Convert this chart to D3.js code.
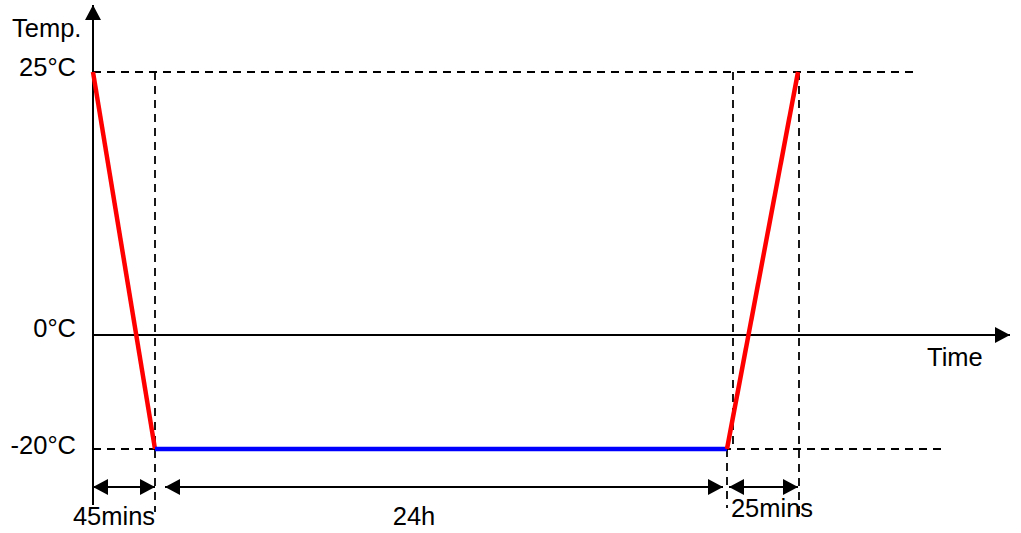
<!DOCTYPE html>
<html>
<head>
<meta charset="utf-8">
<script src="https://cdn.jsdelivr.net/npm/d3@7"></script>
<style>
	body { margin: 0; background: #fff; }
	text { font-family: "Liberation Sans", Arial, sans-serif; font-size: 25.5px; fill: #000; }
</style>
</head>
<body>
<svg id="chart" width="1021" height="533"></svg>
<script>
// profile points: minutes from start, temperature in °C
const times = [0, 45, 1485, 1510];
const temps = [25, -20, -20, 25];
const segColors = ['#ff0000', '#0000ff', '#ff0000'];

const yTicks = [25, 0, -20];
const yTickLabels = ['25°C', '0°C', '-20°C'];

const spans = [[0, 45], [45, 1485], [1485, 1510]];
const spanLabels = ['45mins', '24h', '25mins'];

let svg = d3.select('#chart');

// schematic (not to scale) -> piecewise scales
let x = d3.scaleLinear()
	.domain(times)
	.range([93, 155, 727, 798]);

let y = d3.scaleLinear()
	.domain([-20, 0, 25])
	.range([449, 335, 72]);

let defs = svg.append('defs');
defs.append('marker')
	.attr('id', 'head')
	.attr('viewBox', '0 0 15 16')
	.attr('refX', 15).attr('refY', 8)
	.attr('markerWidth', 15).attr('markerHeight', 16)
	.attr('markerUnits', 'userSpaceOnUse')
	.attr('orient', 'auto-start-reverse')
	.append('path')
	.attr('d', 'M0,0 L15,8 L0,16 Z')
	.attr('fill', '#000');

let dash = '8,6';
let guide = (x1, y1, x2, y2) => svg.append('line')
	.attr('x1', x1).attr('y1', y1).attr('x2', x2).attr('y2', y2)
	.attr('stroke', '#000').attr('stroke-width', 1.8).attr('stroke-dasharray', dash);

// guide lines
guide(x(0), y(25), 913, y(25));
guide(x(0), y(-20), 945, y(-20));
guide(x(45), y(25), x(45), 512);
guide(x(1485) + 6, y(25), x(1485) + 6, y(-20));
guide(x(1485), y(-20), x(1485), 508);
guide(x(1510) + 1, y(25), x(1510) + 1, 516);

// axes
svg.append('line')
	.attr('x1', x(0)).attr('x2', x(0))
	.attr('y1', 505).attr('y2', 5)
	.attr('stroke', '#000').attr('stroke-width', 2)
	.attr('marker-end', 'url(#head)');
svg.append('line')
	.attr('x1', x(0)).attr('x2', 1010)
	.attr('y1', y(0)).attr('y2', y(0))
	.attr('stroke', '#000').attr('stroke-width', 2)
	.attr('marker-end', 'url(#head)');

// profile segments
let pts = times.map((t, i) => [x(t), y(temps[i])]);
svg.selectAll('line.seg')
	.data(segColors)
	.enter().append('line')
	.attr('class', 'seg')
	.attr('x1', (c, i) => pts[i][0]).attr('y1', (c, i) => pts[i][1])
	.attr('x2', (c, i) => pts[i + 1][0]).attr('y2', (c, i) => pts[i + 1][1])
	.attr('stroke', c => c)
	.attr('stroke-width', 4.5);

// tick labels
svg.selectAll('text.ytick')
	.data(yTicks)
	.enter().append('text')
	.attr('class', 'ytick')
	.attr('x', 76)
	.attr('y', (d, i) => y(d) + [4, 2, 5][i])
	.attr('text-anchor', 'end')
	.text((d, i) => yTickLabels[i]);

svg.append('text').attr('x', 12).attr('y', 37).text('Temp.');
svg.append('text').attr('x', 927).attr('y', 366).text('Time');

// duration arrows
let pad = [[0, 0], [10, -4], [2, 0]];
let arrowY = 487;
svg.selectAll('line.span')
	.data(spans)
	.enter().append('line')
	.attr('class', 'span')
	.attr('x1', (d, i) => x(d[0]) + pad[i][0])
	.attr('x2', (d, i) => x(d[1]) + pad[i][1])
	.attr('y1', arrowY).attr('y2', arrowY)
	.attr('stroke', '#000').attr('stroke-width', 2)
	.attr('marker-start', 'url(#head)')
	.attr('marker-end', 'url(#head)');

let labelPos = [[114, 525], [414, 525], [772, 517]];
svg.selectAll('text.span')
	.data(spanLabels)
	.enter().append('text')
	.attr('class', 'span')
	.attr('x', (d, i) => labelPos[i][0])
	.attr('y', (d, i) => labelPos[i][1])
	.attr('text-anchor', 'middle')
	.text(d => d);
</script>
</body>
</html>
